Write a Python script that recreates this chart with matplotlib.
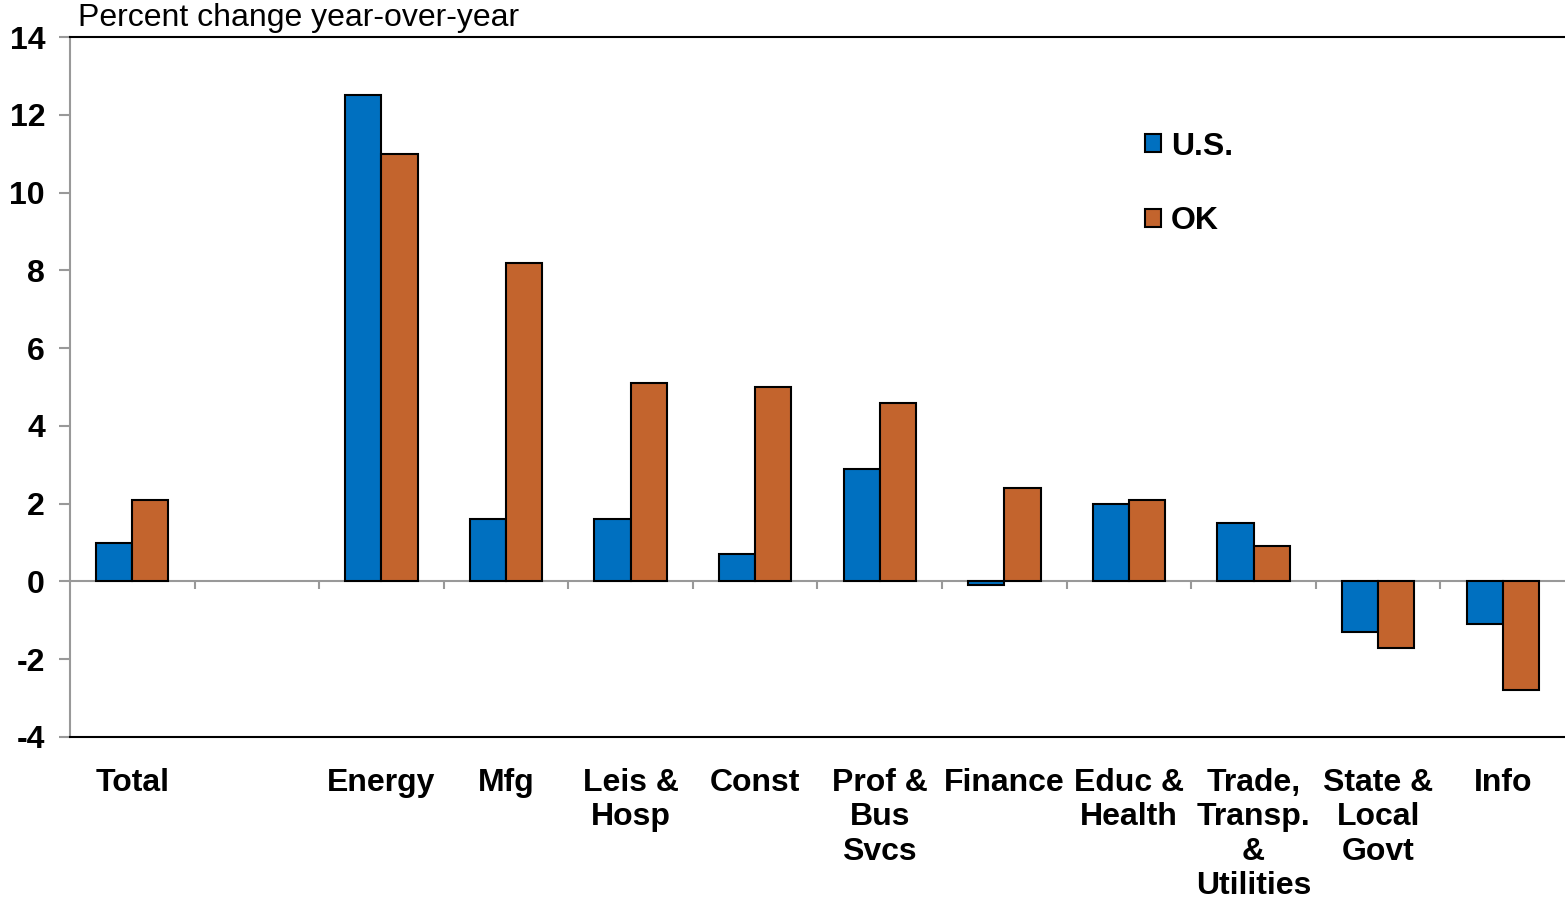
import matplotlib
matplotlib.use("Agg")
import matplotlib.pyplot as plt
import numpy as np

plt.rcParams['font.family'] = ['Liberation Sans', 'DejaVu Sans']

categories = ["Total", "", "Energy", "Mfg", "Leis &\nHosp", "Const", "Prof &\nBus\nSvcs",
              "Finance", "Educ &\nHealth", "Trade,\nTransp.\n&\nUtilities", "State &\nLocal\nGovt", "Info"]
us_values = [1.0, np.nan, 12.5, 1.6, 1.6, 0.7, 2.9, -0.1, 2.0, 1.5, -1.3, -1.1]
ok_values = [2.1, np.nan, 11.0, 8.2, 5.1, 5.0, 4.6, 2.4, 2.1, 0.9, -1.7, -2.8]
series_names = ["U.S.", "OK"]
yticks = [-4, -2, 0, 2, 4, 6, 8, 10, 12, 14]

blue = "#0070C0"
orange = "#C3642D"
FS = 23

fig = plt.figure(figsize=(15.65, 9), dpi=100)
ax = fig.add_axes([70/1565, (900-737)/900, (1565-70)/1565, 700/900])

x = np.arange(len(categories))
w = 0.29
ax.bar(x - w/2, us_values, w, color=blue, edgecolor="black", linewidth=1.5, label=series_names[0], zorder=3)
ax.bar(x + w/2, ok_values, w, color=orange, edgecolor="black", linewidth=1.5, label=series_names[1], zorder=3)

ax.set_xlim(-0.5, len(categories) - 0.5)
ax.set_ylim(yticks[0], yticks[-1])
ax.set_yticks(yticks)
ax.set_yticklabels([str(t) for t in yticks], fontsize=FS, fontweight="bold")
ax.tick_params(axis="y", direction="out", length=8, width=1.5, color="#999999", pad=10)

ax.set_xticks(x)
ax.set_xticklabels(categories, fontsize=FS, fontweight="bold", linespacing=1.2, va="top")
ax.tick_params(axis="x", length=0, pad=22)

ax.spines["left"].set_color("#999999")
ax.spines["left"].set_linewidth(1.5)
ax.spines["right"].set_visible(False)
ax.spines["top"].set_color("black")
ax.spines["top"].set_linewidth(1.5)
ax.spines["bottom"].set_color("black")
ax.spines["bottom"].set_linewidth(1.5)

# zero line with category-boundary ticks
ax.axhline(0, color="#999999", linewidth=1.5, zorder=2)
for b in np.arange(len(categories) - 1) + 0.5:
    ax.plot([b, b], [0, -0.2], color="#999999", linewidth=1.5, zorder=2, solid_capstyle="butt")

leg = ax.legend(loc="upper left", bbox_to_anchor=(0.7107, 0.883), frameon=False,
                prop={"size": FS, "weight": "bold"}, handlelength=0.5, handleheight=0.5,
                handletextpad=0.3, labelspacing=1.4, borderaxespad=0)
for h in leg.legend_handles:
    h.set_linewidth(1.5)

fig.text(78/1565, 1 - 18/900, "Percent change year-over-year", fontsize=FS, va="center", ha="left")

fig.savefig("out.png", dpi=100)
